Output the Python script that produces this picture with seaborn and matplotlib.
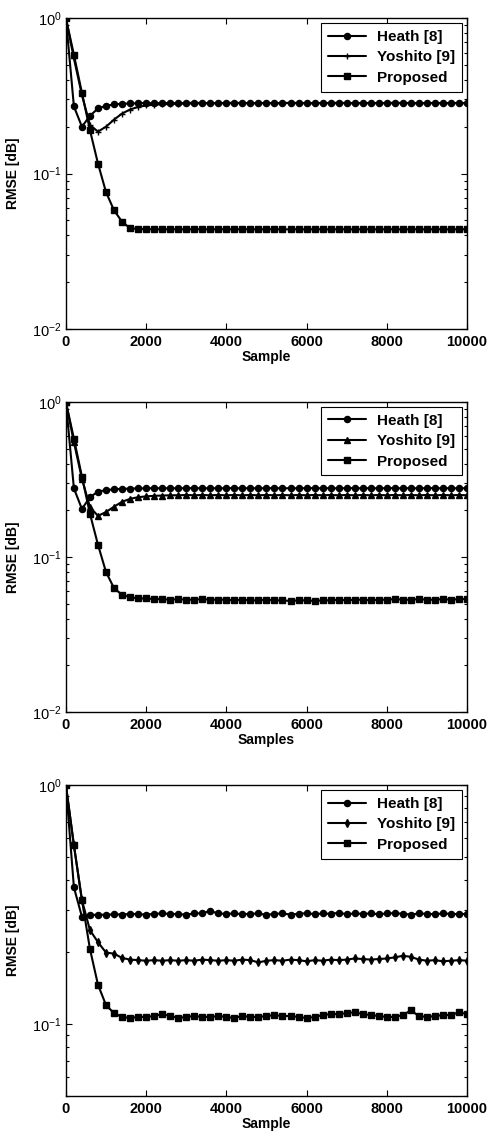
import matplotlib
matplotlib.use("Agg")
import matplotlib.pyplot as plt
from matplotlib.ticker import LogLocator, NullFormatter, FixedLocator
import numpy as np
import pandas as pd
import seaborn as sns

# sample index of every plotted point
samples = list(range(0, 10001, 200))

# ---- panel 1 ----
heath_1 = [1.00, 0.270, 0.200, 0.235, 0.262, 0.273, 0.278, 0.281, 0.282, 0.283,
           0.284, 0.283, 0.284, 0.284, 0.283, 0.284, 0.285, 0.284, 0.283, 0.284,
           0.284, 0.285, 0.284, 0.283, 0.284, 0.284, 0.283, 0.284, 0.285, 0.284,
           0.284, 0.283, 0.284, 0.284, 0.285, 0.284, 0.283, 0.284, 0.284, 0.283,
           0.284, 0.285, 0.284, 0.284, 0.283, 0.284, 0.284, 0.283, 0.284, 0.284,
           0.283]
yoshito_1 = [1.00, 0.550, 0.320, 0.205, 0.186, 0.200, 0.222, 0.243, 0.258, 0.268,
             0.274, 0.277, 0.279, 0.280, 0.281, 0.282, 0.282, 0.283, 0.283, 0.283,
             0.283, 0.283, 0.284, 0.283, 0.283, 0.284, 0.283, 0.283, 0.284, 0.283,
             0.283, 0.283, 0.284, 0.283, 0.283, 0.284, 0.283, 0.283, 0.283, 0.284,
             0.283, 0.283, 0.284, 0.283, 0.283, 0.283, 0.284, 0.283, 0.283, 0.284,
             0.283]
proposed_1 = [1.00, 0.580, 0.330, 0.190, 0.116, 0.076, 0.058, 0.049, 0.0445, 0.0440,
              0.0438, 0.0438, 0.0437, 0.0438, 0.0438, 0.0437, 0.0438, 0.0438, 0.0437, 0.0438,
              0.0438, 0.0437, 0.0438, 0.0438, 0.0437, 0.0438, 0.0438, 0.0437, 0.0438, 0.0438,
              0.0437, 0.0438, 0.0438, 0.0437, 0.0438, 0.0438, 0.0437, 0.0438, 0.0438, 0.0437,
              0.0438, 0.0438, 0.0437, 0.0438, 0.0438, 0.0437, 0.0438, 0.0438, 0.0437, 0.0438,
              0.0438]

# ---- panel 2 ----
heath_2 = [1.00, 0.277, 0.204, 0.243, 0.264, 0.270, 0.273, 0.275, 0.276, 0.277,
           0.277, 0.278, 0.277, 0.278, 0.277, 0.278, 0.278, 0.277, 0.278, 0.277,
           0.278, 0.278, 0.277, 0.278, 0.277, 0.278, 0.278, 0.277, 0.278, 0.277,
           0.278, 0.278, 0.277, 0.278, 0.277, 0.278, 0.278, 0.277, 0.278, 0.277,
           0.278, 0.278, 0.277, 0.278, 0.277, 0.278, 0.278, 0.277, 0.278, 0.277,
           0.278]
yoshito_2 = [1.00, 0.550, 0.320, 0.210, 0.184, 0.195, 0.211, 0.227, 0.237, 0.243,
             0.246, 0.248, 0.249, 0.250, 0.250, 0.251, 0.250, 0.251, 0.250, 0.251,
             0.250, 0.251, 0.250, 0.251, 0.250, 0.251, 0.250, 0.251, 0.250, 0.251,
             0.250, 0.251, 0.250, 0.251, 0.250, 0.251, 0.250, 0.251, 0.250, 0.251,
             0.250, 0.251, 0.250, 0.251, 0.250, 0.251, 0.250, 0.251, 0.250, 0.251,
             0.250]
proposed_2 = [1.00, 0.580, 0.330, 0.190, 0.120, 0.080, 0.063, 0.057, 0.055, 0.054,
              0.054, 0.0535, 0.0535, 0.053, 0.0535, 0.053, 0.053, 0.0535, 0.053, 0.053,
              0.053, 0.0525, 0.053, 0.0525, 0.0525, 0.053, 0.0525, 0.0525, 0.052, 0.0525,
              0.0525, 0.052, 0.0525, 0.0525, 0.053, 0.0525, 0.053, 0.053, 0.0525, 0.053,
              0.053, 0.0535, 0.053, 0.053, 0.0535, 0.053, 0.053, 0.0535, 0.053, 0.0535,
              0.0535]

# ---- panel 3 ----
heath_3 = [1.00, 0.373, 0.281, 0.285, 0.287, 0.286, 0.288, 0.287, 0.289, 0.288,
           0.287, 0.289, 0.290, 0.289, 0.288, 0.287, 0.290, 0.291, 0.297, 0.290,
           0.289, 0.290, 0.288, 0.289, 0.290, 0.286, 0.289, 0.290, 0.287, 0.289,
           0.291, 0.288, 0.290, 0.289, 0.292, 0.288, 0.290, 0.289, 0.290, 0.288,
           0.290, 0.291, 0.289, 0.287, 0.290, 0.289, 0.288, 0.290, 0.289, 0.288,
           0.289]
yoshito_3 = [1.00, 0.560, 0.330, 0.247, 0.220, 0.199, 0.197, 0.189, 0.186, 0.185,
             0.184, 0.185, 0.184, 0.185, 0.184, 0.185, 0.184, 0.186, 0.185, 0.184,
             0.185, 0.184, 0.186, 0.185, 0.181, 0.184, 0.185, 0.184, 0.186, 0.185,
             0.183, 0.185, 0.184, 0.186, 0.185, 0.186, 0.188, 0.187, 0.186, 0.187,
             0.188, 0.190, 0.193, 0.191, 0.186, 0.184, 0.185, 0.183, 0.184, 0.185,
             0.184]
proposed_3 = [1.00, 0.560, 0.330, 0.206, 0.146, 0.120, 0.111, 0.107, 0.106, 0.107,
              0.107, 0.108, 0.110, 0.108, 0.106, 0.107, 0.108, 0.107, 0.107, 0.108,
              0.107, 0.106, 0.108, 0.107, 0.107, 0.108, 0.109, 0.108, 0.108, 0.107,
              0.106, 0.107, 0.109, 0.110, 0.110, 0.111, 0.112, 0.110, 0.109, 0.108,
              0.107, 0.107, 0.109, 0.114, 0.108, 0.107, 0.108, 0.109, 0.109, 0.112,
              0.110]

labels = ["Heath [8]", "Yoshito [9]", "Proposed"]
x_labels = ["Sample", "Samples", "Sample"]
panels = [
    [heath_1, yoshito_1, proposed_1],
    [heath_2, yoshito_2, proposed_2],
    [heath_3, yoshito_3, proposed_3],
]
yoshito_markers = ["+", "^", "d"]
y_limits = [(0.01, 1.0), (0.01, 1.0), (0.05, 1.0)]

sns.set_theme(style="ticks")
plt.rcParams["font.family"] = ["Liberation Sans", "DejaVu Sans"]
plt.rcParams["font.size"] = 10
plt.rcParams["mathtext.default"] = "regular"
for key in ["text.color", "axes.labelcolor", "xtick.color", "ytick.color",
            "axes.edgecolor"]:
    plt.rcParams[key] = "black"

fig = plt.figure(figsize=(4.88, 11.39), dpi=100)
rects = [
    [0.135, 0.7111, 0.822, 0.2731],
    [0.135, 0.3749, 0.822, 0.2722],
    [0.135, 0.0378, 0.822, 0.2730],
]

for i, (rect, series) in enumerate(zip(rects, panels)):
    ax = fig.add_axes(rect)
    markers = ["o", yoshito_markers[i], "s"]
    sizes = [4.4, 4.2 if yoshito_markers[i] != "+" else 5.0, 4.0]
    for vals, lab, mk, ms in zip(series, labels, markers, sizes):
        df = pd.DataFrame({"sample": samples, "rmse": vals})
        sns.lineplot(data=df, x="sample", y="rmse", ax=ax, color="black",
                     linewidth=1.5, marker=mk, markersize=ms,
                     markeredgecolor="black", markerfacecolor="black",
                     markeredgewidth=1.0, label=lab)
    ax.set_yscale("log")
    ax.set_ylim(*y_limits[i])
    ax.set_xlim(0, 10000)
    ax.xaxis.set_major_locator(FixedLocator([0, 2000, 4000, 6000, 8000, 10000]))
    ax.yaxis.set_major_locator(LogLocator(base=10, numticks=10))
    ax.yaxis.set_minor_locator(LogLocator(base=10, subs=np.arange(2, 10), numticks=10))
    ax.yaxis.set_minor_formatter(NullFormatter())
    ax.tick_params(which="both", top=True, right=True, direction="in",
                   color="black", labelcolor="black", width=0.8)
    ax.tick_params(which="major", length=4.5)
    ax.tick_params(which="minor", length=2.5)
    ax.tick_params(axis="x", labelsize=10.5, pad=4)
    ax.tick_params(axis="y", labelsize=10.5, pad=3)
    for lbl in ax.get_xticklabels():
        lbl.set_fontweight("bold")
    for sp in ax.spines.values():
        sp.set_visible(True)
        sp.set_color("black")
        sp.set_linewidth(1.0)
    ax.set_xlabel(x_labels[i], fontsize=10, fontweight="bold", labelpad=1,
                  color="black")
    ax.set_ylabel("RMSE [dB]", fontsize=10, fontweight="bold", labelpad=9,
                  color="black")
    ax.grid(False)
    leg = ax.legend(loc="upper right", bbox_to_anchor=(0.988, 0.984),
                    borderaxespad=0, frameon=True, fancybox=False,
                    edgecolor="black", framealpha=1, fontsize=11,
                    handlelength=2.5, handletextpad=0.75, labelspacing=0.42,
                    borderpad=0.45, numpoints=1)
    leg.get_frame().set_linewidth(0.8)
    for t in leg.get_texts():
        t.set_fontweight("bold")
        t.set_color("black")

fig.savefig("out.png", dpi=100, facecolor="white")
